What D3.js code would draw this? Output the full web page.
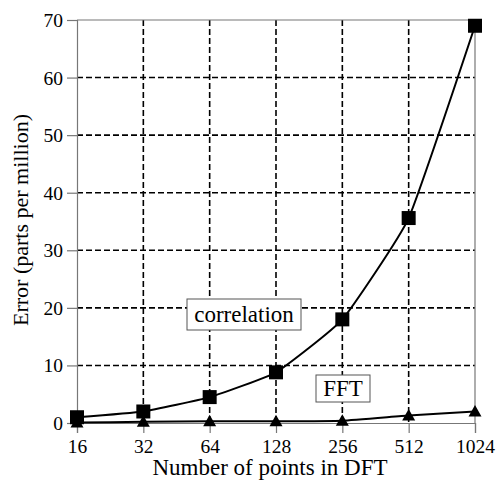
<!DOCTYPE html>
<html>
<head>
<meta charset="utf-8">
<script src="https://cdn.jsdelivr.net/npm/d3@7"></script>
<style>
  body { margin: 0; background: #fff; }
  svg { display: block; }
</style>
</head>
<body>
<script>
// data
let points = [16, 32, 64, 128, 256, 512, 1024]
let correlation = [1.0, 2.0, 4.5, 8.8, 18.0, 35.6, 69.0]
let fft = [0.1, 0.2, 0.3, 0.3, 0.4, 1.3, 2.0]
let yTicks = [0, 10, 20, 30, 40, 50, 60, 70]

let W = 497, H = 481
let padLeft = 77, padRight = 475, padTop = 20, padBottom = 423
let serif = '"Liberation Serif", "Times New Roman", Times, serif'

let svg = d3.select('body')
    .append('svg')
    .attr('width', W)
    .attr('height', H)
    .style('font-family', serif)

let x = d3.scaleLog().base(2).domain([16, 1024]).range([padLeft, padRight])
let y = d3.scaleLinear().domain([0, 70]).range([padBottom, padTop])

//dashed grid
svg.append('g')
    .selectAll('line')
    .data(points.slice(1, -1))
    .join('line')
    .attr('x1', d => x(d)).attr('x2', d => x(d))
    .attr('y1', padTop).attr('y2', padBottom)
    .style('stroke', 'black')
    .style('stroke-width', 1.6)
    .style('stroke-dasharray', '6,3')
svg.append('g')
    .selectAll('line')
    .data(yTicks.slice(1, -1))
    .join('line')
    .attr('x1', padLeft).attr('x2', padRight)
    .attr('y1', d => y(d)).attr('y2', d => y(d))
    .style('stroke', 'black')
    .style('stroke-width', 1.6)
    .style('stroke-dasharray', '6,3')

//frame (top and right)
svg.append('line')
    .attr('x1', padLeft).attr('x2', padRight).attr('y1', padTop).attr('y2', padTop)
    .style('stroke', '#777').style('stroke-width', 1.2)
svg.append('line')
    .attr('x1', padRight).attr('x2', padRight).attr('y1', padTop).attr('y2', padBottom)
    .style('stroke', '#777').style('stroke-width', 1.2)

//axes
let yAxis = svg.append('g')
    .attr('transform', `translate(${padLeft},0)`)
    .call(d3.axisLeft(y).tickValues(yTicks).tickSize(10).tickPadding(4))
let xAxis = svg.append('g')
    .attr('transform', `translate(0,${padBottom})`)
    .call(d3.axisBottom(x).tickValues(points).tickFormat(d3.format('d')).tickSize(10).tickPadding(6))
;[yAxis, xAxis].forEach(a => {
  a.attr('font-family', null).attr('font-size', null)
  a.select('.domain').style('stroke', '#777').style('stroke-width', 1.2)
  a.selectAll('.tick line').style('stroke', '#777').style('stroke-width', 1.2)
  a.selectAll('text')
      .style('font-family', serif)
      .style('font-size', '19.5px')
      .style('fill', 'black')
})
xAxis.selectAll('text').attr('dy', '0.72em')
yAxis.selectAll('text').attr('dy', '0.33em')

//series lines
let line = d3.line()
    .x((d, i) => x(points[i]))
    .y(d => y(d))
    .curve(d3.curveCardinal.tension(0.6))
svg.append('path')
    .datum(fft)
    .attr('d', line)
    .style('fill', 'none')
    .style('stroke', 'black')
    .style('stroke-width', 2)
svg.append('path')
    .datum(correlation)
    .attr('d', line)
    .style('fill', 'none')
    .style('stroke', 'black')
    .style('stroke-width', 2)

//markers
svg.append('g')
    .selectAll('rect')
    .data(correlation)
    .join('rect')
    .attr('x', (d, i) => x(points[i]) - 7)
    .attr('y', d => y(d) - 7)
    .attr('width', 14)
    .attr('height', 14)
    .style('fill', 'black')
svg.append('g')
    .selectAll('path')
    .data(fft)
    .join('path')
    .attr('transform', (d, i) => `translate(${x(points[i])},${y(d)})`)
    .attr('d', 'M0,-6.5 L6.5,5 L-6.5,5Z')
    .style('fill', 'black')

//labels in boxes
function boxLabel(txt, cx, cy, w, h) {
  svg.append('rect')
      .attr('x', cx - w / 2).attr('y', cy - h / 2)
      .attr('width', w).attr('height', h)
      .style('fill', 'white')
      .style('stroke', '#555')
      .style('stroke-width', 1)
  svg.append('text')
      .attr('x', cx).attr('y', cy)
      .attr('text-anchor', 'middle')
      .attr('dy', '0.33em')
      .style('font-size', '23px')
      .text(txt)
}
boxLabel('correlation', 244, 314.5, 114, 31)
boxLabel('FFT', 343, 388.5, 54, 27)

//axis titles
svg.append('text')
    .attr('x', 270).attr('y', 475)
    .attr('text-anchor', 'middle')
    .style('font-size', '23px')
    .text('Number of points in DFT')
svg.append('text')
    .attr('transform', 'translate(28,220) rotate(-90)')
    .attr('text-anchor', 'middle')
    .style('font-size', '22px')
    .text('Error (parts per million)')
</script>
</body>
</html>
